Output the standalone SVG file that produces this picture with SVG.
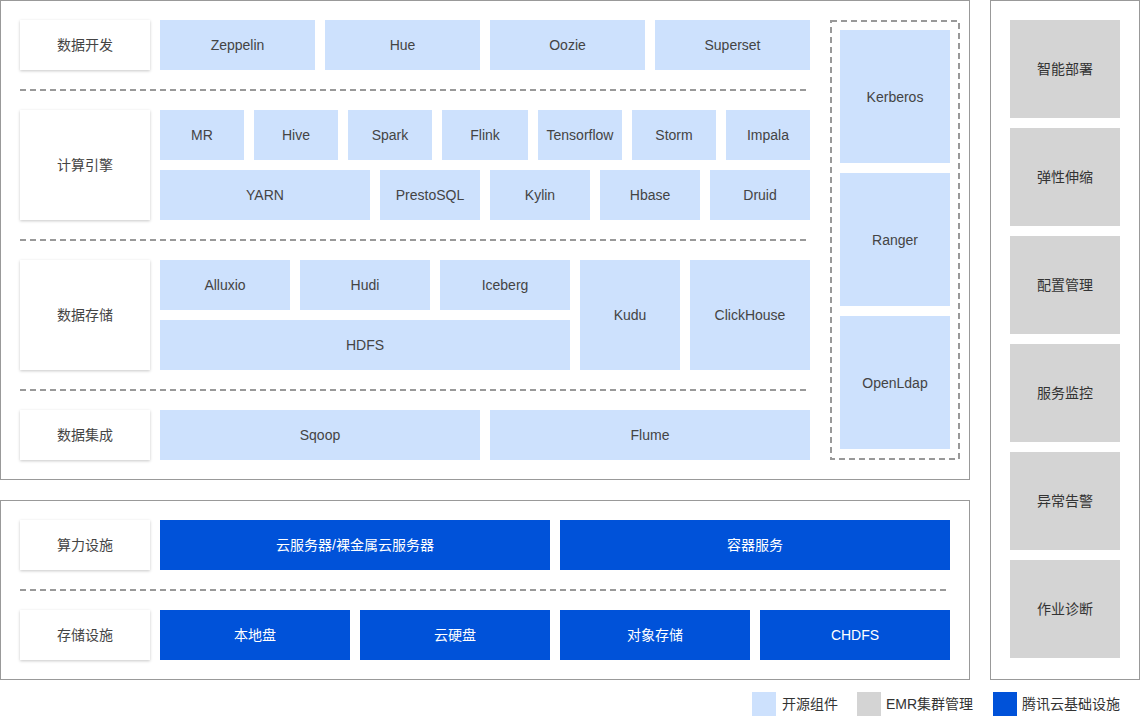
<svg xmlns="http://www.w3.org/2000/svg" width="1140" height="716" viewBox="0 0 1140 716">
<defs>
<filter id="sh" x="-10%" y="-20%" width="120%" height="150%">
<feDropShadow dx="0" dy="1" stdDeviation="1.5" flood-color="#000" flood-opacity="0.22"/>
</filter>
</defs>
<style>
text{font-family:"Liberation Sans","Noto Sans CJK SC",sans-serif;font-size:14px;text-anchor:middle;dominant-baseline:central}
.frame{fill:#fff;stroke:#999;stroke-width:1}
.lab rect{fill:#fff;filter:url(#sh)}
.lab text{fill:#444}
.os rect{fill:#cde1fd}
.os text{fill:#444}
.emr rect{fill:#d4d4d4}
.emr text{fill:#333}
.inf rect{fill:#0052d9}
.inf text{fill:#fff}
.dash{stroke:#999;stroke-width:2;stroke-dasharray:6 4;fill:none}
.lg{text-anchor:start;fill:#333}
</style>
<rect class="frame" x="0.5" y="0.5" width="969" height="479"/>
<rect class="frame" x="0.5" y="500.5" width="969" height="179"/>
<rect class="frame" x="990.5" y="0.5" width="149" height="679"/>
<g id="separators">
<line class="dash" x1="20" y1="90" x2="810" y2="90"/>
<line class="dash" x1="20" y1="240" x2="810" y2="240"/>
<line class="dash" x1="20" y1="390" x2="810" y2="390"/>
<line class="dash" x1="20" y1="590" x2="950" y2="590"/>
<rect class="dash" x="831" y="21" width="128" height="438" stroke-width="1.5"/>
</g>
<g id="lab1" class="lab"><rect x="20" y="20" width="130" height="50"/><text x="85" y="45">数据开发</text></g>
<g id="lab2" class="lab"><rect x="20" y="110" width="130" height="110"/><text x="85" y="165">计算引擎</text></g>
<g id="lab3" class="lab"><rect x="20" y="260" width="130" height="110"/><text x="85" y="315">数据存储</text></g>
<g id="lab4" class="lab"><rect x="20" y="410" width="130" height="50"/><text x="85" y="435">数据集成</text></g>
<g id="lab5" class="lab"><rect x="20" y="520" width="130" height="50"/><text x="85" y="545">算力设施</text></g>
<g id="lab6" class="lab"><rect x="20" y="610" width="130" height="50"/><text x="85" y="635">存储设施</text></g>
<g id="zeppelin" class="os"><rect x="160" y="20" width="155" height="50"/><text x="237.5" y="45">Zeppelin</text></g>
<g id="hue" class="os"><rect x="325" y="20" width="155" height="50"/><text x="402.5" y="45">Hue</text></g>
<g id="oozie" class="os"><rect x="490" y="20" width="155" height="50"/><text x="567.5" y="45">Oozie</text></g>
<g id="superset" class="os"><rect x="655" y="20" width="155" height="50"/><text x="732.5" y="45">Superset</text></g>
<g id="mr" class="os"><rect x="160" y="110" width="84" height="50"/><text x="202" y="135">MR</text></g>
<g id="hive" class="os"><rect x="254" y="110" width="84" height="50"/><text x="296" y="135">Hive</text></g>
<g id="spark" class="os"><rect x="348" y="110" width="84" height="50"/><text x="390" y="135">Spark</text></g>
<g id="flink" class="os"><rect x="442" y="110" width="86" height="50"/><text x="485" y="135">Flink</text></g>
<g id="tensorflow" class="os"><rect x="538" y="110" width="84" height="50"/><text x="580" y="135">Tensorflow</text></g>
<g id="storm" class="os"><rect x="632" y="110" width="84" height="50"/><text x="674" y="135">Storm</text></g>
<g id="impala" class="os"><rect x="726" y="110" width="84" height="50"/><text x="768" y="135">Impala</text></g>
<g id="yarn" class="os"><rect x="160" y="170" width="210" height="50"/><text x="265" y="195">YARN</text></g>
<g id="presto" class="os"><rect x="380" y="170" width="100" height="50"/><text x="430" y="195">PrestoSQL</text></g>
<g id="kylin" class="os"><rect x="490" y="170" width="100" height="50"/><text x="540" y="195">Kylin</text></g>
<g id="hbase" class="os"><rect x="600" y="170" width="100" height="50"/><text x="650" y="195">Hbase</text></g>
<g id="druid" class="os"><rect x="710" y="170" width="100" height="50"/><text x="760" y="195">Druid</text></g>
<g id="alluxio" class="os"><rect x="160" y="260" width="130" height="50"/><text x="225" y="285">Alluxio</text></g>
<g id="hudi" class="os"><rect x="300" y="260" width="130" height="50"/><text x="365" y="285">Hudi</text></g>
<g id="iceberg" class="os"><rect x="440" y="260" width="130" height="50"/><text x="505" y="285">Iceberg</text></g>
<g id="hdfs" class="os"><rect x="160" y="320" width="410" height="50"/><text x="365" y="345">HDFS</text></g>
<g id="kudu" class="os"><rect x="580" y="260" width="100" height="110"/><text x="630" y="315">Kudu</text></g>
<g id="clickhouse" class="os"><rect x="690" y="260" width="120" height="110"/><text x="750" y="315">ClickHouse</text></g>
<g id="sqoop" class="os"><rect x="160" y="410" width="320" height="50"/><text x="320" y="435">Sqoop</text></g>
<g id="flume" class="os"><rect x="490" y="410" width="320" height="50"/><text x="650" y="435">Flume</text></g>
<g id="kerberos" class="os"><rect x="840" y="30" width="110" height="133"/><text x="895" y="97">Kerberos</text></g>
<g id="ranger" class="os"><rect x="840" y="173" width="110" height="133"/><text x="895" y="240">Ranger</text></g>
<g id="openldap" class="os"><rect x="840" y="316" width="110" height="133"/><text x="895" y="383">OpenLdap</text></g>
<g id="cvm" class="inf"><rect x="160" y="520" width="390" height="50"/><text x="355" y="545">云服务器/裸金属云服务器</text></g>
<g id="container" class="inf"><rect x="560" y="520" width="390" height="50"/><text x="755" y="545">容器服务</text></g>
<g id="local" class="inf"><rect x="160" y="610" width="190" height="50"/><text x="255" y="635">本地盘</text></g>
<g id="cbs" class="inf"><rect x="360" y="610" width="190" height="50"/><text x="455" y="635">云硬盘</text></g>
<g id="cos" class="inf"><rect x="560" y="610" width="190" height="50"/><text x="655" y="635">对象存储</text></g>
<g id="chdfs" class="inf"><rect x="760" y="610" width="190" height="50"/><text x="855" y="635">CHDFS</text></g>
<g id="deploy" class="emr"><rect x="1010" y="20" width="110" height="98"/><text x="1065" y="69">智能部署</text></g>
<g id="scale" class="emr"><rect x="1010" y="128" width="110" height="98"/><text x="1065" y="177">弹性伸缩</text></g>
<g id="config" class="emr"><rect x="1010" y="236" width="110" height="98"/><text x="1065" y="285">配置管理</text></g>
<g id="monitor" class="emr"><rect x="1010" y="344" width="110" height="98"/><text x="1065" y="393">服务监控</text></g>
<g id="alarm" class="emr"><rect x="1010" y="452" width="110" height="98"/><text x="1065" y="501">异常告警</text></g>
<g id="diag" class="emr"><rect x="1010" y="560" width="110" height="98"/><text x="1065" y="609">作业诊断</text></g>
<g id="legend">
<rect x="752" y="692" width="24" height="24" fill="#cde1fd"/><text class="lg" x="782" y="704">开源组件</text>
<rect x="857" y="692" width="24" height="24" fill="#d4d4d4"/><text class="lg" x="886" y="704">EMR集群管理</text>
<rect x="993" y="692" width="24" height="24" fill="#0052d9"/><text class="lg" x="1022" y="704">腾讯云基础设施</text>
</g>
</svg>
